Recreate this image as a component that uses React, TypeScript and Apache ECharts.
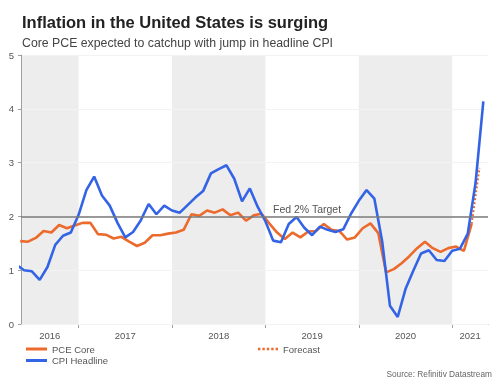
import React, { useEffect, useRef } from "react";
import * as echarts from "echarts";

// ---- data ----
const titleText = "Inflation in the United States is surging";
const subtitleText = "Core PCE expected to catchup with jump in headline CPI";
const sourceText = "Source: Refinitiv Datastream";
const targetLabel = "Fed 2% Target";
const targetValue = 2;

// CPI headline, YoY %, monthly from Apr 2016 (dated end of month)
const cpiStart = "2016-04";
const cpiValues = [
  1.1, 1.0, 0.98, 0.82, 1.06, 1.47, 1.64, 1.7, 2.03,
  2.49, 2.74, 2.39, 2.2, 1.88, 1.61, 1.71, 1.93, 2.23, 2.04, 2.2, 2.11,
  2.07, 2.21, 2.35, 2.47, 2.8, 2.88, 2.95, 2.7, 2.28, 2.52, 2.18, 1.91,
  1.55, 1.52, 1.86, 1.99, 1.79, 1.65, 1.81, 1.75, 1.71, 1.76, 2.05, 2.29,
  2.49, 2.33, 1.54, 0.34, 0.13, 0.65, 0.99, 1.31, 1.37, 1.19, 1.17, 1.36,
  1.4, 1.68, 2.62, 4.14,
];

// PCE core, YoY %, monthly from May 2016 (dated mid month)
const pceStart = "2016-05";
const pceValues = [
  1.54, 1.53, 1.6, 1.73, 1.7, 1.84, 1.78, 1.83,
  1.88, 1.88, 1.67, 1.66, 1.59, 1.62, 1.53, 1.45, 1.51, 1.65, 1.65, 1.68,
  1.7, 1.75, 2.04, 2.01, 2.11, 2.07, 2.13, 2.02, 2.07, 1.92, 2.02, 2.05,
  1.87, 1.7, 1.58, 1.7, 1.61, 1.72, 1.73, 1.86, 1.75, 1.73, 1.57, 1.61,
  1.78, 1.87, 1.69, 0.96, 1.02, 1.13, 1.26, 1.41, 1.53, 1.41, 1.34, 1.41,
  1.44, 1.36, 1.86,
];

// PCE core forecast
const forecastMonths = ["2021-03", "2021-04"];
const forecastValues = [1.86, 2.9];

const yearLabels = ["2016", "2017", "2018", "2019", "2020", "2021"];
const shadedYears = ["2016", "2018", "2020"];
const axisStartMonth = "2016-05"; // window start (~19 May 2016)
const axisEndMonth = "2021-05"; // window end (~19 May 2021)

// ---- helpers ----
const BASE_YEAR = 2016;
const monthIdx = (ym: string) => {
  const [y, m] = ym.split("-").map(Number);
  return (y - BASE_YEAR) * 12 + (m - 1);
};
const monthsFrom = (start: string, n: number) => {
  const s = monthIdx(start);
  return Array.from({ length: n }, (_, i) => s + i);
};
const DAY_FRAC = 18 / 30; // ~19th of the month
const X_MIN = monthIdx(axisStartMonth) + DAY_FRAC;
const X_MAX = monthIdx(axisEndMonth) + DAY_FRAC;

const FONT = '"Liberation Sans", Arial, Helvetica, sans-serif';
const ORANGE = "#ec6a2c";
const BLUE = "#3464e6";

const SOLID_ICON = "path://M0,0H21V3H0Z";
const DOTTED_ICON =
  "path://M0,0H2.4V2.4H0ZM4.4,0H6.8V2.4H4.4ZM8.8,0H11.2V2.4H8.8ZM13.2,0H15.6V2.4H13.2ZM17.6,0H20V2.4H17.6Z";

export default function App() {
  const ref = useRef<HTMLDivElement>(null);

  useEffect(() => {
    if (!ref.current) return;
    const chart = echarts.init(ref.current, undefined, { renderer: "svg" });

    const cpiData = monthsFrom(cpiStart, cpiValues.length).map((m, i) => [m + 1, cpiValues[i]]);
    const pceData = monthsFrom(pceStart, pceValues.length).map((m, i) => [m + 0.5, pceValues[i]]);
    const fcData = forecastMonths.map((ym, i) => [monthIdx(ym) + 0.5, forecastValues[i]]);

    const yearStarts = yearLabels.map((y) => (Number(y) - BASE_YEAR) * 12);
    const tickValues = yearStarts.filter((v) => v > X_MIN && v < X_MAX);
    const labelValues = yearStarts.map((s) => (Math.max(s, X_MIN) + Math.min(s + 12, X_MAX)) / 2);

    const bands = shadedYears.map((y) => {
      const s = (Number(y) - BASE_YEAR) * 12;
      return [{ xAxis: Math.max(s, X_MIN) }, { xAxis: Math.min(s + 12, X_MAX) }];
    });

    const legendBase = {
      padding: 0,
      itemGap: 0,
      textStyle: { fontSize: 9.5, color: "#555" },
    };

    chart.setOption({
      animation: false,
      textStyle: { fontFamily: FONT },
      grid: { left: 21, right: 11, top: 55, bottom: 57 },
      xAxis: {
        type: "value",
        min: X_MIN,
        max: X_MAX,
        splitLine: { show: false },
        axisLine: { lineStyle: { color: "#a0a0a0" } },
        axisTick: { show: true, customValues: tickValues, length: 4, lineStyle: { color: "#a0a0a0" } },
        axisLabel: {
          customValues: labelValues,
          color: "#555",
          fontSize: 9.5,
          margin: 6,
          formatter: (v: number) => String(BASE_YEAR + Math.floor(v / 12)),
        },
      },
      yAxis: {
        type: "value",
        min: 0,
        max: 5,
        interval: 1,
        z: 1.5,
        axisLine: { show: true, lineStyle: { color: "#a0a0a0" } },
        axisTick: { show: true, length: 3, lineStyle: { color: "#a0a0a0" } },
        axisLabel: { color: "#555", fontSize: 9.5, margin: 7 },
        splitLine: { lineStyle: { color: "#f3f3f3", width: 1 } },
      },
      legend: [
        {
          ...legendBase,
          data: [{ name: "PCE Core", icon: SOLID_ICON }],
          left: 26,
          top: 344,
          itemWidth: 21,
          itemHeight: 3,
        },
        {
          ...legendBase,
          data: [{ name: "CPI Headline", icon: SOLID_ICON }],
          left: 26,
          top: 355.5,
          itemWidth: 21,
          itemHeight: 3,
        },
        {
          ...legendBase,
          data: [{ name: "Forecast", icon: DOTTED_ICON }],
          left: 258,
          top: 344,
          itemWidth: 20,
          itemHeight: 2.4,
        },
      ],
      series: [
        {
          name: "bands",
          type: "line",
          data: [],
          z: 1,
          silent: true,
          markArea: {
            silent: true,
            itemStyle: { color: "#ededed" },
            data: bands,
          },
          markLine: {
            silent: true,
            symbol: "none",
            label: { show: false },
            lineStyle: { color: "#7a7a7a", width: 1.5, type: "solid" },
            data: [{ yAxis: targetValue }],
          },
        },
        {
          name: "PCE Core",
          type: "line",
          data: pceData,
          symbol: "none",
          z: 2,
          lineStyle: { color: ORANGE, width: 2.6 },
          itemStyle: { color: ORANGE },
        },
        {
          name: "Forecast",
          type: "line",
          data: fcData,
          symbol: "none",
          z: 2,
          lineStyle: { color: ORANGE, width: 2, type: [2, 2] },
          itemStyle: { color: ORANGE },
        },
        {
          name: "CPI Headline",
          type: "line",
          data: cpiData,
          symbol: "none",
          z: 3,
          lineStyle: { color: BLUE, width: 2.6 },
          itemStyle: { color: BLUE },
        },
      ],
      graphic: [
        {
          type: "text",
          style: { text: titleText, x: 22, y: 22, font: `bold 16.5px ${FONT}`, fill: "#222", verticalAlign: "middle" },
        },
        {
          type: "text",
          style: { text: subtitleText, x: 22, y: 42.5, font: `12.3px ${FONT}`, fill: "#444", verticalAlign: "middle" },
        },
        {
          type: "text",
          style: { text: targetLabel, x: 273, y: 208.5, font: `10.5px ${FONT}`, fill: "#555", verticalAlign: "middle" },
        },
        {
          type: "text",
          style: {
            text: sourceText,
            x: 492,
            y: 374,
            font: `8.3px ${FONT}`,
            fill: "#666",
            align: "right",
            verticalAlign: "middle",
          },
        },
      ],
    });

    return () => chart.dispose();
  }, []);

  return <div ref={ref} style={{ position: "fixed", left: 0, top: 0, width: 499, height: 381 }} />;
}
